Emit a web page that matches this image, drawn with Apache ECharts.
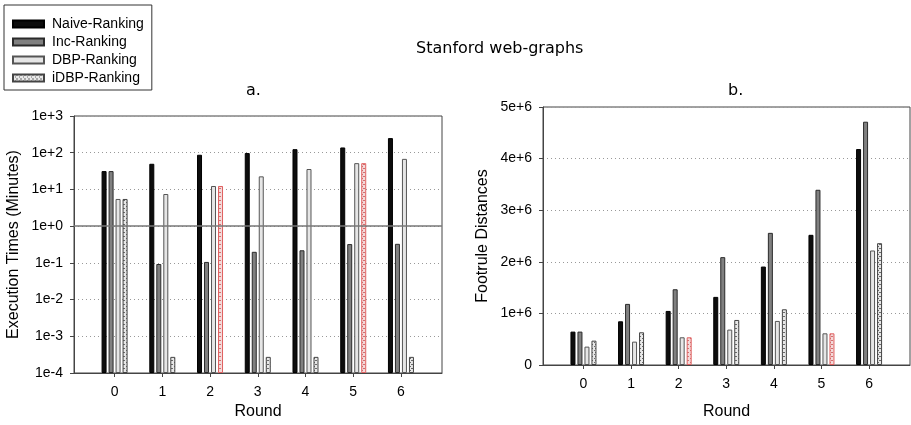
<!DOCTYPE html>
<html>
<head>
<meta charset="utf-8">
<script src="https://cdn.jsdelivr.net/npm/echarts@6/dist/echarts.min.js"></script>
<style>
html,body{margin:0;padding:0;background:#fff;}
#main{width:911px;height:425px;}
</style>
</head>
<body>
<div id="main"></div>
<script>
// rounds on the x axis
var rounds = [0, 1, 2, 3, 4, 5, 6];
var seriesNames = ['Naive-Ranking', 'Inc-Ranking', 'DBP-Ranking', 'iDBP-Ranking'];

// a. execution times (minutes), log scale
var timeNaive = [31.6, 50, 88, 98, 125, 139, 250];
var timeInc = [31.6, 0.093, 0.106, 0.2, 0.22, 0.325, 0.33];
var timeDBP = [5.5, 7.5, 12.4, 22.7, 36, 52, 68];
var timeIDBP = [5.5, 0.000275, 12.4, 0.000275, 0.000275, 52, 0.000275];

// b. footrule distances
var distNaive = [647000, 847000, 1048000, 1320000, 1908000, 2523000, 4185000];
var distInc = [647000, 1184000, 1468000, 2090000, 2561000, 3396000, 4715000];
var distDBP = [356000, 453000, 537000, 686000, 854000, 614000, 2219000];
var distIDBP = [472000, 634000, 537000, 873000, 1080000, 614000, 2361000];

// rounds where the iDBP bar is outlined in red
var redRounds = [2, 5];

function makePattern(bg, dot){
	var c = document.createElement('canvas');
	c.width = 4; c.height = 4;
	var ctx = c.getContext('2d');
	ctx.fillStyle = bg;
	ctx.fillRect(0, 0, 4, 4);
	ctx.fillStyle = dot;
	ctx.fillRect(0, 0, 1, 1);
	ctx.fillRect(2, 2, 1, 1);
	ctx.fillRect(3, 0, 1, 1);
	return c;
}
var greyDots = {image: makePattern('#e8e8e8', '#6a6a6a'), repeat: 'repeat'};
var redDots = {image: makePattern('#f3dada', '#d07070'), repeat: 'repeat'};

var styles = [
	{color: '#0d0d0d', borderColor: '#000', borderWidth: 1},
	{color: '#808080', borderColor: '#2a2a2a', borderWidth: 1},
	{color: '#e6e6e6', borderColor: '#555', borderWidth: 1},
	{color: greyDots, borderColor: '#444', borderWidth: 1}
];

function buildSeries(gridIdx, lists){
	return lists.map(function(vals, s){
		var data = rounds.map(function(r, i){
			var item = {value: [r, vals[i]]};
			if(s == 3 && redRounds.indexOf(r) >= 0){
				item.itemStyle = {color: redDots, borderColor: '#e06060'};
			}
			return item;
		});
		var ser = {
			name: seriesNames[s],
			type: 'bar',
			xAxisIndex: gridIdx,
			yAxisIndex: gridIdx,
			barWidth: 5,
			barGap: '40%',
			silent: true,
			itemStyle: styles[s],
			data: data
		};
		if(gridIdx == 0 && s == 0){
			ser.markLine = {
				silent: true,
				symbol: 'none',
				label: {show: false},
				lineStyle: {color: '#777', type: 'solid', width: 1.5},
				data: [{yAxis: 1}]
			};
		}
		return ser;
	});
}

var labelFont = {fontFamily: 'Liberation Sans', fontSize: 14, color: '#000'};
var nameFont = {fontFamily: 'Liberation Sans', fontSize: 16, color: '#000'};

function roundAxis(gridIdx, gap){
	return {
		type: 'value',
		gridIndex: gridIdx,
		min: -0.85,
		max: 6.86,
		name: 'Round',
		nameLocation: 'middle',
		nameGap: gap,
		nameTextStyle: nameFont,
		axisLine: {onZero: false, lineStyle: {color: '#444'}},
		axisTick: {show: true, length: 4, customValues: rounds, lineStyle: {color: '#444'}},
		axisLabel: Object.assign({customValues: rounds, margin: 12}, labelFont),
		splitLine: {show: false}
	};
}

var chart = echarts.init(document.getElementById('main'));
chart.setOption({
	animation: false,
	backgroundColor: '#fff',
	title: [
		{text: 'Stanford web-graphs', left: 411, top: 36, textStyle: {fontFamily: 'DejaVu Sans', fontSize: 16, fontWeight: 'normal', color: '#000'}},
		{text: 'a.', left: 241, top: 78, textStyle: {fontFamily: 'DejaVu Sans', fontSize: 16, fontWeight: 'normal', color: '#000'}},
		{text: 'b.', left: 723, top: 78, textStyle: {fontFamily: 'DejaVu Sans', fontSize: 16, fontWeight: 'normal', color: '#000'}}
	],
	legend: {
		orient: 'vertical',
		left: 4,
		top: 5,
		padding: [12, 8, 5, 8],
		itemWidth: 31,
		itemHeight: 7,
		itemGap: 4,
		borderColor: '#333',
		borderWidth: 1,
		icon: 'rect',
		selectedMode: false,
		textStyle: {fontFamily: 'Liberation Sans', fontSize: 14, color: '#000', padding: [0, 0, 0, 3]},
		data: seriesNames
	},
	grid: [
		{left: 74, right: 469, top: 116, bottom: 51, show: true, borderColor: '#444', borderWidth: 1},
		{left: 543, right: 1, top: 107, bottom: 60, show: true, borderColor: '#444', borderWidth: 1}
	],
	xAxis: [roundAxis(0, 31), roundAxis(1, 39)],
	yAxis: [
		{
			type: 'log',
			gridIndex: 0,
			logBase: 10,
			min: 0.0001,
			max: 1000,
			startValue: 0.0001,
			name: 'Execution Times (Minutes)',
			nameLocation: 'middle',
			nameGap: 52,
			nameTextStyle: nameFont,
			axisLine: {show: true, onZero: false, lineStyle: {color: '#444'}},
			axisTick: {show: true, length: 4, lineStyle: {color: '#444'}},
			axisLabel: Object.assign({
				margin: 11,
				formatter: function(v){
					var e = Math.round(Math.log(v) / Math.LN10);
					return '1e' + (e >= 0 ? '+' : '') + e;
				}
			}, labelFont),
			splitLine: {show: true, lineStyle: {color: '#999', type: [1, 3]}}
		},
		{
			type: 'value',
			gridIndex: 1,
			min: 0,
			max: 5000000,
			interval: 1000000,
			name: 'Footrule Distances',
			nameLocation: 'middle',
			nameGap: 52,
			nameTextStyle: nameFont,
			axisLine: {show: true, onZero: false, lineStyle: {color: '#444'}},
			axisTick: {show: true, length: 4, lineStyle: {color: '#444'}},
			axisLabel: Object.assign({
				margin: 11,
				formatter: function(v){
					return v == 0 ? '0' : (v / 1000000) + 'e+6';
				}
			}, labelFont),
			splitLine: {show: true, lineStyle: {color: '#999', type: [1, 3]}}
		}
	],
	series: buildSeries(0, [timeNaive, timeInc, timeDBP, timeIDBP])
		.concat(buildSeries(1, [distNaive, distInc, distDBP, distIDBP]))
});
</script>
</body>
</html>
